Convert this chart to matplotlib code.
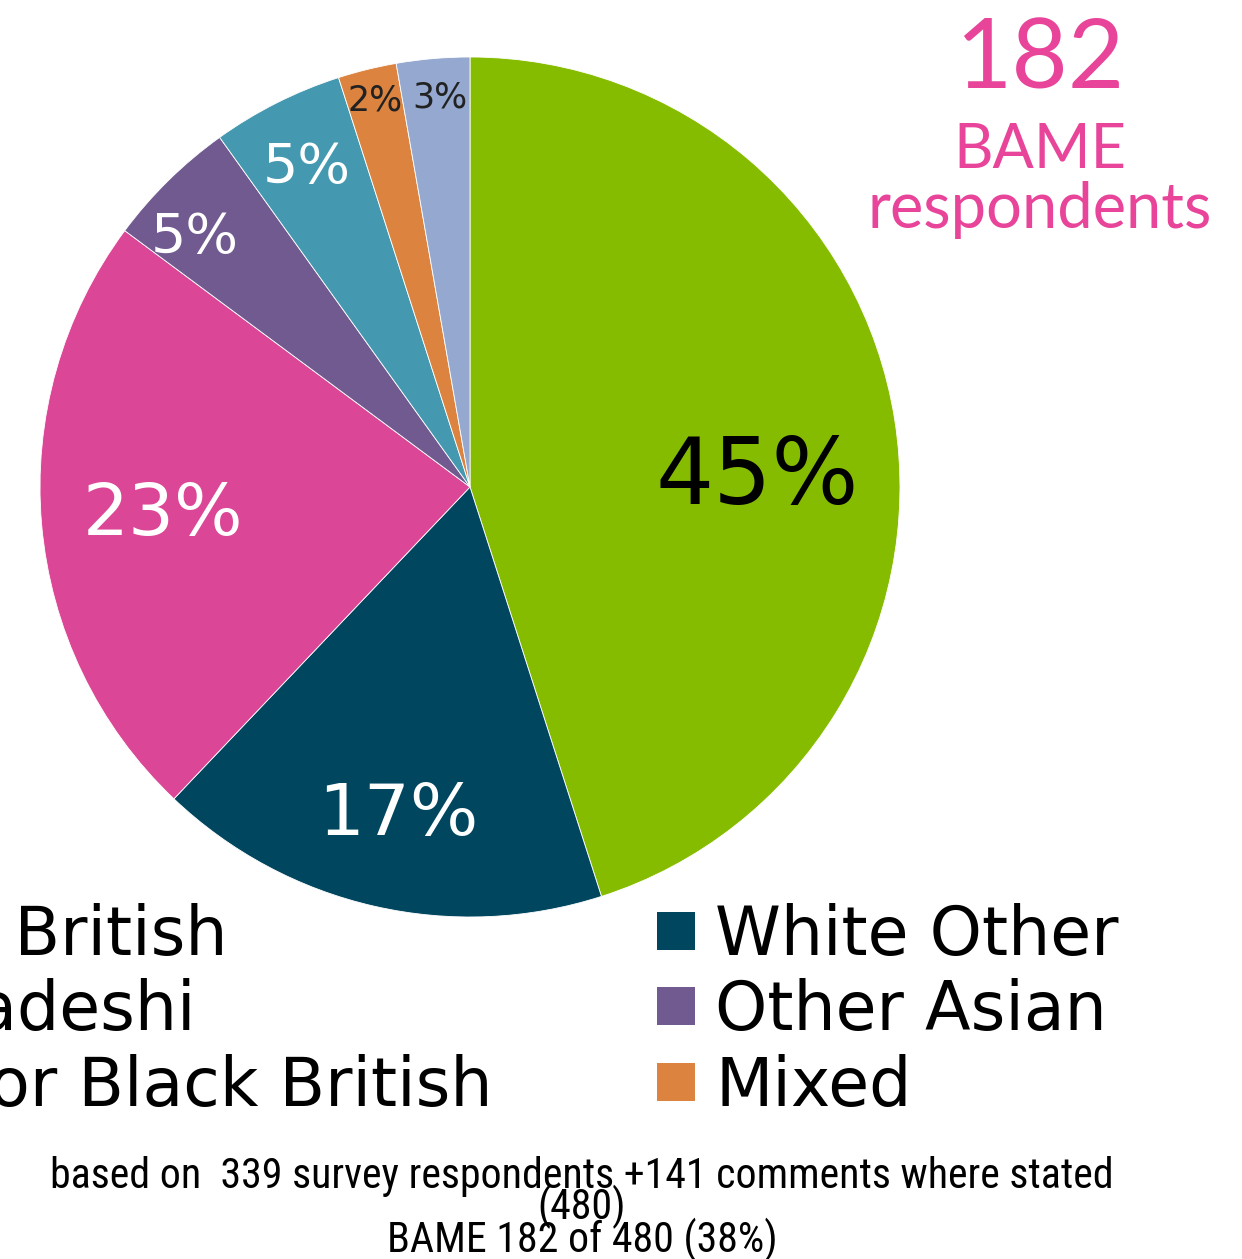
import matplotlib.pyplot as plt
from matplotlib import font_manager
from matplotlib.patches import Rectangle

W, H = 1242, 1259

# respondents per group (182 BAME respondents)
groups = ['Indian British', 'White Other', 'Bangladeshi', 'Other Asian',
          'Black or Black British', 'Mixed', 'Other']
counts = [82, 31, 42, 9, 9, 4, 5]
pct_labels = ['45%', '17%', '23%', '5%', '5%', '2%', '3%']
colors = ['#86BC00', '#00465F', '#DC4696', '#705A8F', '#4499B1', '#DC843F', '#94A8D0']

# label styling per slice
label_pos = [(757, 478), (398, 815), (163, 515), (195, 238), (307, 168), (375, 100), (440, 97)]
label_size = [66, 52, 52, 40, 40, 25, 25]
label_color = ['black', 'white', 'white', 'white', 'white', '#222222', '#222222']

note = ['based on  339 survey respondents +141 comments where stated', '(480)', 'BAME 182 of 480 (38%)']

fig = plt.figure(figsize=(W / 100, H / 100), dpi=100)
ax = fig.add_axes([0, 0, 1, 1])

ax.pie(counts, colors=colors, startangle=90, counterclock=False,
       center=(470, H - 487), radius=430, frame=True,
       wedgeprops=dict(edgecolor='white', linewidth=0.6))
ax.set_xlim(0, W)
ax.set_ylim(0, H)
ax.set_aspect('equal')
ax.axis('off')

for txt, (x, y), s, c in zip(pct_labels, label_pos, label_size, label_color):
    ax.text(x, H - y, txt, fontsize=s, color=c, ha='center', va='center',
            family='DejaVu Sans')

# legend (two columns, filled row-wise, left column runs off the canvas)
col_x = [-212, 715]
row_y = [955, 1030, 1106]
for i, (name, col) in enumerate(zip(groups[:6], colors[:6])):
    cx = col_x[i % 2]
    by = row_y[i // 2]
    ax.add_patch(Rectangle((cx - 58, H - by + 5), 38, 38, facecolor=col, edgecolor='none'))
    ax.text(cx, H - by, name, fontsize=48, ha='left', va='baseline', color='black')

# headline
pink = '#E8449A'
ax.text(1040, H - 88, '182', fontsize=70, color=pink, ha='center', va='baseline', family='Lato')
ax.text(1040, H - 168, 'BAME', fontsize=44, color=pink, ha='center', va='baseline', family='Lato')
ax.text(1040, H - 228, 'respondents', fontsize=45.5, color=pink, ha='center', va='baseline', family='Lato')

# footnote in a narrow face if one is installed
installed = {f.name for f in font_manager.fontManager.ttflist}
narrow = next((f for f in ['Liberation Sans Narrow', 'Roboto Condensed', 'DejaVu Sans Condensed',
                           'Open Sans Condensed', 'Roboto', 'Liberation Sans']
               if f in installed), 'DejaVu Sans')
note_y = [1188, 1219, 1252]
texts = [ax.text(582, H - y, line, fontsize=28, ha='center', va='baseline', family=narrow)
         for line, y in zip(note, note_y)]
renderer = fig.canvas.get_renderer()
width = texts[0].get_window_extent(renderer).width
size = 28 * 1061 / width
for t in texts:
    t.set_fontsize(size)

fig.savefig('out.png', dpi=100)
